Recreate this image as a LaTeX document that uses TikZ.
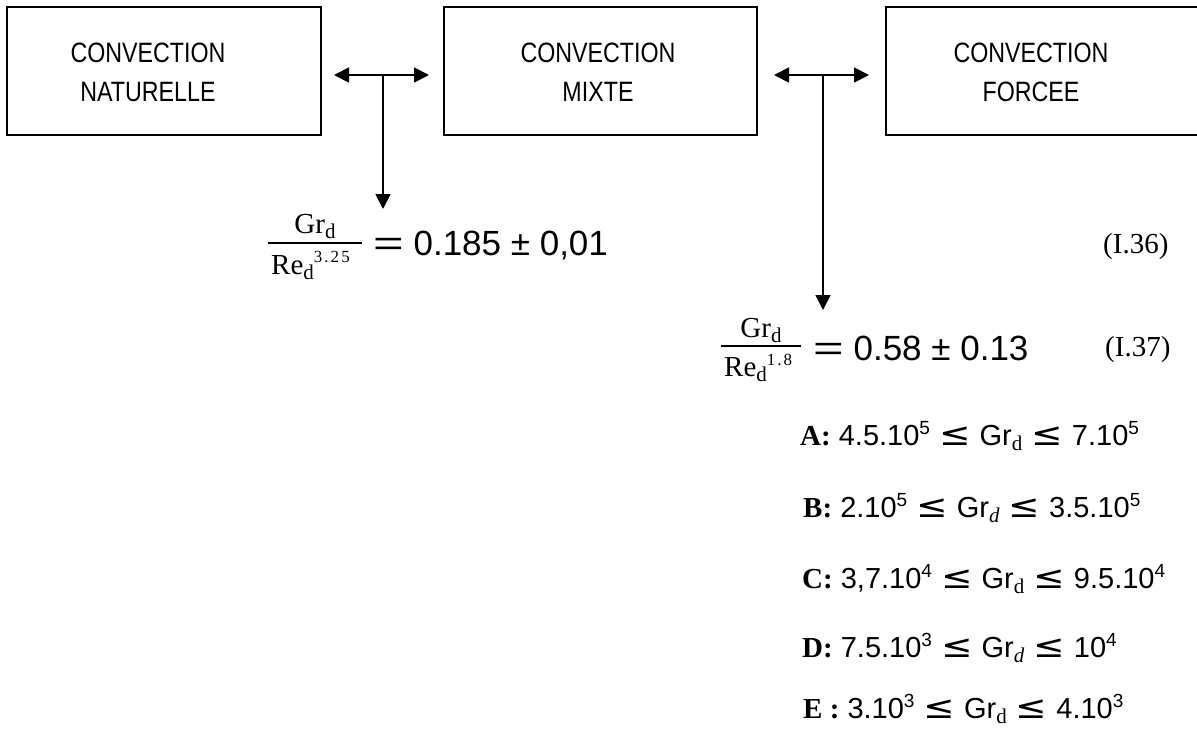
\documentclass[tikz,border=0pt]{standalone}
\usepackage{fontspec}
\usepackage{graphicx}
\setmainfont{Liberation Sans}
\newfontfamily\serif{Liberation Serif}
\newfontfamily\djv{DejaVu Sans}
\newfontfamily\narrowsans[FakeStretch=0.83]{Liberation Sans}
\usetikzlibrary{arrows.meta,calc}
\newcommand{\supn}[1]{\raisebox{11pt}{\fontsize{19}{19}\selectfont #1}}
\newcommand{\subd}{\raisebox{-5pt}{\fontsize{21}{21}\serif d}}
\newcommand{\subdi}{\raisebox{-5pt}{\fontsize{21}{21}\serif\itshape d}}
\newcommand{\lee}{\hspace{9pt}{\djv\scalebox{1.3}[1.1]{≤}}\hspace{9pt}}
\newcommand{\eqq}{\scalebox{1.5}[1]{=}}
\begin{document}
\begin{tikzpicture}[x=1pt,y=-1pt,
  box/.style={draw, line width=2pt, rectangle, inner sep=0, minimum height=128pt},
  boxtxt/.style={inner sep=0, align=center, font=\narrowsans\fontsize{28}{39}\selectfont},
  link/.style={line width=1.8pt, {Triangle[length=15pt,width=15pt]}-{Triangle[length=15pt,width=15pt]}},
  down/.style={line width=1.8pt, -{Triangle[length=15pt,width=15pt]}},
  txt/.style={inner sep=0, anchor=base west},
  ctxt/.style={inner sep=0, anchor=base},
  fbar/.style={line width=2pt},
  rng/.style={inner sep=0, anchor=base west, font=\fontsize{29}{29}\selectfont}]
\useasboundingbox (0,0) rectangle (1197,736);

% boxes
\node[box, minimum width=314pt] (nat) at (164,71) {};
\node[box, minimum width=313pt] (mix) at (600.5,71) {};
\node[box, minimum width=330pt] (for) at (1051,71) {};
\node[boxtxt] (natT) at (148,72.5) {CONVECTION\\NATURELLE};
\node[boxtxt] (mixT) at (598,72.5) {CONVECTION\\MIXTE};
\node[boxtxt] (forT) at (1031,72.5) {CONVECTION\\FORCEE};

% connectors
\coordinate (a1) at ($(nat.east)+(12,4)$);
\coordinate (b1) at ($(mix.west)+(-14,4)$);
\draw[link] (a1) -- (b1);
\coordinate (j1) at (383,75);
\coordinate (t1) at (383,209);
\draw[down] (j1) -- (t1);

\coordinate (a2) at ($(mix.east)+(16,4)$);
\coordinate (b2) at ($(for.west)+(-16,4)$);
\draw[link] (a2) -- (b2);
\coordinate (j2) at (823,75);
\coordinate (t2) at (823,310);
\draw[down] (j2) -- (t2);

% equation I.36
\coordinate (f1a) at (268,243);
\coordinate (f1b) at (362,243);
\draw[fbar] (f1a) -- (f1b);
\node[ctxt] (num1) at (315,233) {\fontsize{29}{29}\serif Gr\subd};
\node[txt] (den1) at (271,274) {\fontsize{29}{29}\serif Re\subd\raisebox{12pt}{\fontsize{17}{17}\serif\addfontfeature{LetterSpace=12}3.25}};
\node[txt] (val1) at (373,255) {\fontsize{35}{35}\selectfont\eqq{} 0.185 ± 0,01};
\node[txt] (no1) at (1103,253) {\fontsize{29}{29}\serif (I.36)};

% equation I.37
\coordinate (f2a) at (721,346);
\coordinate (f2b) at (801,346);
\draw[fbar] (f2a) -- (f2b);
\node[ctxt] (num2) at (761,337) {\fontsize{29}{29}\serif Gr\subd};
\node[txt] (den2) at (724,376) {\fontsize{29}{29}\serif Re\subd\raisebox{11pt}{\fontsize{17}{17}\serif\addfontfeature{LetterSpace=12}1.8}};
\node[txt] (val2) at (813,360) {\fontsize{35}{35}\selectfont\eqq{} 0.58 ± 0.13};
\node[txt] (no2) at (1105,356) {\fontsize{29}{29}\serif (I.37)};

% ranges
\node[rng] (rA) at (800,445) {{\serif\bfseries A:} 4.5.10\supn{5}\lee Gr\subd\lee 7.10\supn{5}};
\node[rng] (rB) at (803,517) {{\serif\bfseries B:} 2.10\supn{5}\lee Gr\subdi\lee 3.5.10\supn{5}};
\node[rng] (rC) at (802,588) {{\serif\bfseries C:} 3,7.10\supn{4}\lee Gr\subd\lee 9.5.10\supn{4}};
\node[rng] (rD) at (802,657) {{\serif\bfseries D:} 7.5.10\supn{3}\lee Gr\subdi\lee 10\supn{4}};
\node[rng] (rE) at (803,718) {{\serif\bfseries E :} 3.10\supn{3}\lee Gr\subd\lee 4.10\supn{3}};
\end{tikzpicture}
\end{document}
